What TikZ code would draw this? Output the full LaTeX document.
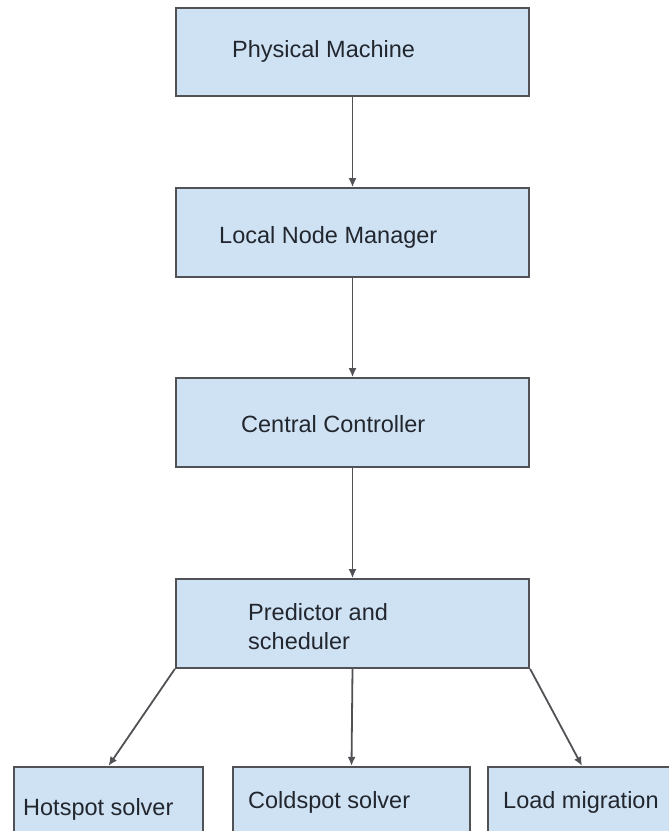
\documentclass[tikz,border=0pt]{standalone}
\usepackage{fontspec}
\setmainfont{Liberation Sans}
\usetikzlibrary{arrows.meta}
\definecolor{boxfill}{RGB}{207,226,243}
\definecolor{boxline}{RGB}{80,82,86}
\definecolor{txt}{RGB}{34,38,46}
\begin{document}
\begin{tikzpicture}[x=1pt,y=-1pt,
  stagebox/.style={draw=boxline,fill=boxfill,line width=2.2pt,rectangle,inner sep=0pt,
    minimum width=353pt,minimum height=88.5pt},
  leafbox/.style={draw=boxline,fill=boxfill,line width=2.2pt,rectangle,inner sep=0pt,
    minimum height=74pt},
  lbl/.style={anchor=west,inner sep=0pt,text=txt,font=\fontsize{23.5}{29}\selectfont,align=left},
  flow/.style={draw=boxline,line width=1.8pt,-{Latex[length=9pt,width=8pt]}}]
\useasboundingbox[fill=white] (0,0) rectangle (669,831);
\begin{scope}
\clip (0,0) rectangle (669,831);
% main chain
\node[stagebox] (pm) at (352.5,52) {};
\node[stagebox] (lnm) at (352.5,232.5) {};
\node[stagebox] (cc) at (352.5,422.5) {};
\node[stagebox] (ps) at (352.5,623.5) {};
% leaf boxes, running off the lower edge
\node[leafbox,minimum width=189pt] (hot) at (108.5,804) {};
\node[leafbox,minimum width=237pt] (cold) at (351.5,804) {};
\node[leafbox,minimum width=188pt] (load) at (582,804) {};
% labels
\node[lbl] (tpm) at (232,51) {Physical Machine};
\node[lbl] (tlnm) at (219,237) {Local Node Manager};
\node[lbl] (tcc) at (241,424) {Central Controller};
\node[lbl] (tps) at (248,627) {Predictor and\\scheduler};
\node[lbl] (thot) at (23,809) {Hotspot solver};
\node[lbl] (tcold) at (248,802) {Coldspot solver};
\node[lbl] (tload) at (503,802) {Load migration};
% connectors
\draw[flow] (pm.south) -- (lnm.north);
\draw[flow] (lnm.south) -- (cc.north);
\draw[flow] (cc.south) -- (ps.north);
\draw[flow] (ps.south west) -- (hot.north);
\draw[flow] (ps.south) -- (cold.north);
\draw[flow] (ps.south east) -- (load.north);
\end{scope}
\end{tikzpicture}
\end{document}
